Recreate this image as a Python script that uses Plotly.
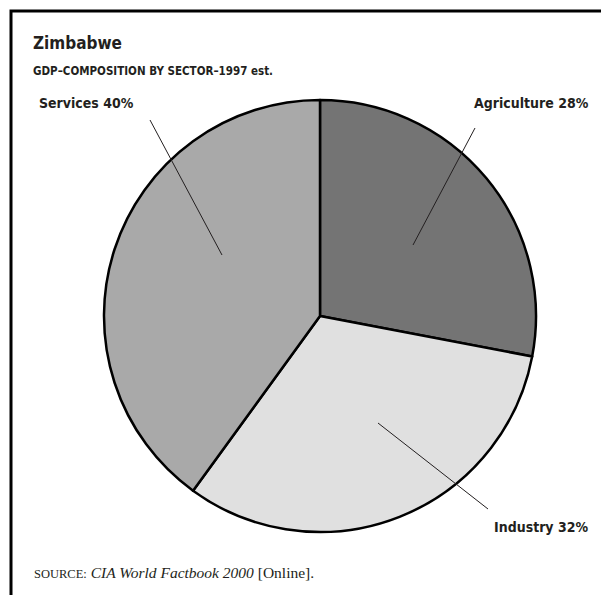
import plotly.graph_objects as go

W, H = 601, 595

sectors = ["Agriculture", "Industry", "Services"]
shares = [28, 32, 40]
colors = ["#747474", "#e0e0e0", "#a9a9a9"]

title = "Zimbabwe"
subtitle = "GDP–COMPOSITION BY SECTOR–1997 est."
source_html = ("<span style='font-size:12.5px'>SOURCE:</span> "
               "<i>CIA World Factbook 2000</i> [Online].")

# pixel helpers
def px(x):
    return x / W

def py(y):
    return 1 - y / H

cx, cy, r = 320, 316, 216

fig = go.Figure(go.Pie(
    labels=sectors,
    values=shares,
    sort=False,
    direction="clockwise",
    rotation=0,
    textinfo="none",
    hoverinfo="label+percent",
    marker=dict(colors=colors, line=dict(color="black", width=2.5)),
    domain=dict(x=[px(cx - r), px(cx + r)], y=[py(cy + r), py(cy - r)]),
    showlegend=False,
))

cond = "DejaVu Sans Condensed, Liberation Sans Narrow, Arial Narrow, sans-serif"

label_pos = {
    "Agriculture": dict(tx=531, ty=103, line=((475, 128), (413, 245))),
    "Industry": dict(tx=541, ty=527, line=((488, 509), (378, 423))),
    "Services": dict(tx=86, ty=103, line=((150, 120), (222, 255))),
}

annotations = []
shapes = []
for name, val in zip(sectors, shares):
    p = label_pos[name]
    annotations.append(dict(
        text=f"<b>{name} {val}%</b>", x=px(p["tx"]), y=py(p["ty"]),
        xref="paper", yref="paper", showarrow=False,
        xanchor="center", yanchor="middle",
        font=dict(family=cond, size=14, color="#231f20"),
    ))
    (x0, y0), (x1, y1) = p["line"]
    shapes.append(dict(type="line", xref="paper", yref="paper",
                       x0=px(x0), y0=py(y0), x1=px(x1), y1=py(y1),
                       line=dict(color="#231f20", width=1)))

annotations += [
    dict(text=f"<b>{title}</b>", x=px(31), y=py(43), xref="paper", yref="paper",
         showarrow=False, xanchor="left", yanchor="middle",
         font=dict(family=cond, size=17, color="#231f20")),
    dict(text=f"<b>{subtitle}</b>", x=px(31), y=py(71), xref="paper", yref="paper",
         showarrow=False, xanchor="left", yanchor="middle",
         font=dict(family=cond, size=11.5, color="#231f20")),
    dict(text=source_html, x=px(32), y=py(572), xref="paper", yref="paper",
         showarrow=False, xanchor="left", yanchor="middle",
         font=dict(family="Liberation Serif, Times New Roman, serif", size=15.5, color="#231f20")),
]

# frame (top and left edges visible)
shapes.append(dict(type="rect", xref="paper", yref="paper",
                   x0=px(11), y0=-0.05, x1=1.05, y1=py(11),
                   line=dict(color="black", width=3), layer="below"))

fig.update_layout(
    width=W, height=H,
    margin=dict(l=0, r=0, t=0, b=0),
    paper_bgcolor="white", plot_bgcolor="white",
    annotations=annotations, shapes=shapes,
)

fig.write_html("out.html",
               config={"displayModeBar": False},
               post_script="document.body.style.margin='0';document.body.style.overflow='hidden';")
